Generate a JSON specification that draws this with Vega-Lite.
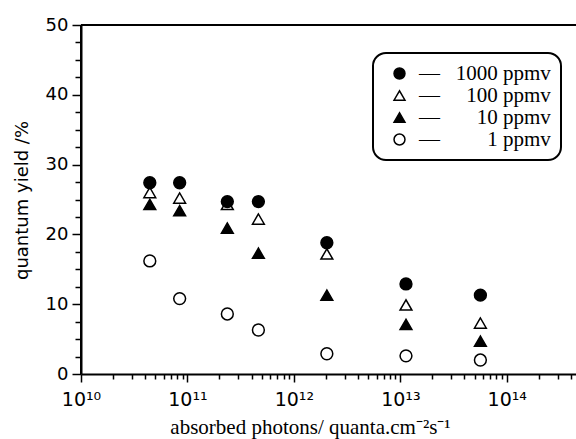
{
  "$schema": "https://vega.github.io/schema/vega-lite/v6.json",
  "width": 495,
  "height": 349,
  "autosize": {"type": "none"},
  "padding": {"left": 81, "top": 25, "right": 0, "bottom": 65},
  "background": "white",
  "config": {"view": {"stroke": null}, "legend": {"strokeWidth": 2}},
  "resolve": {"axis": {"x": "independent", "y": "independent"}},
  "layer": [
    {
      "data": {
        "values": [
          {"photons": 4.43e10, "yield": 16.2, "conc": "1 ppmv"},
          {"photons": 8.45e10, "yield": 10.8, "conc": "1 ppmv"},
          {"photons": 2.37e11, "yield": 8.6, "conc": "1 ppmv"},
          {"photons": 4.64e11, "yield": 6.3, "conc": "1 ppmv"},
          {"photons": 2.04e12, "yield": 2.9, "conc": "1 ppmv"},
          {"photons": 1.13e13, "yield": 2.6, "conc": "1 ppmv"},
          {"photons": 5.65e13, "yield": 2.0, "conc": "1 ppmv"},
          {"photons": 4.43e10, "yield": 24.3, "conc": "10 ppmv"},
          {"photons": 8.45e10, "yield": 23.4, "conc": "10 ppmv"},
          {"photons": 2.37e11, "yield": 20.9, "conc": "10 ppmv"},
          {"photons": 4.64e11, "yield": 17.3, "conc": "10 ppmv"},
          {"photons": 2.04e12, "yield": 11.3, "conc": "10 ppmv"},
          {"photons": 1.13e13, "yield": 7.1, "conc": "10 ppmv"},
          {"photons": 5.65e13, "yield": 4.7, "conc": "10 ppmv"},
          {"photons": 4.43e10, "yield": 26.0, "conc": "100 ppmv"},
          {"photons": 8.45e10, "yield": 25.2, "conc": "100 ppmv"},
          {"photons": 2.37e11, "yield": 24.3, "conc": "100 ppmv"},
          {"photons": 4.64e11, "yield": 22.2, "conc": "100 ppmv"},
          {"photons": 2.04e12, "yield": 17.2, "conc": "100 ppmv"},
          {"photons": 1.13e13, "yield": 9.9, "conc": "100 ppmv"},
          {"photons": 5.65e13, "yield": 7.3, "conc": "100 ppmv"},
          {"photons": 4.43e10, "yield": 27.4, "conc": "1000 ppmv"},
          {"photons": 8.45e10, "yield": 27.4, "conc": "1000 ppmv"},
          {"photons": 2.37e11, "yield": 24.7, "conc": "1000 ppmv"},
          {"photons": 4.64e11, "yield": 24.7, "conc": "1000 ppmv"},
          {"photons": 2.04e12, "yield": 18.8, "conc": "1000 ppmv"},
          {"photons": 1.13e13, "yield": 12.9, "conc": "1000 ppmv"},
          {"photons": 5.65e13, "yield": 11.3, "conc": "1000 ppmv"}
        ]
      },
      "mark": {"type": "point", "filled": true, "stroke": "black", "strokeWidth": 1.5, "size": 140, "opacity": 1},
      "encoding": {
        "x": {
          "field": "photons",
          "type": "quantitative",
          "scale": {"type": "log", "domain": [1e10, 4.47e14], "nice": false},
          "axis": {
            "orient": "bottom",
            "domain": true,
            "domainColor": "black",
            "domainWidth": 2,
            "ticks": true,
            "title": "absorbed photons/ quanta.cm⁻²s⁻¹",
            "values": [1e10, 1e11, 1e12, 1e13, 1e14],
            "labelExpr": "datum.value == 1e10 ? '10¹⁰' : datum.value == 1e11 ? '10¹¹' : datum.value == 1e12 ? '10¹²' : datum.value == 1e13 ? '10¹³' : datum.value == 1e14 ? '10¹⁴' : ''",
            "labelFlush": false,
            "labelOverlap": false,
            "labelFont": "DejaVu Sans",
            "labelFontSize": 19,
            "labelColor": "black",
            "labelPadding": 8,
            "tickSize": 8,
            "tickColor": "black",
            "tickWidth": 1.5,
            "grid": false,
            "titleFont": "Liberation Serif",
            "titleFontSize": 21,
            "titleFontWeight": "normal",
            "titleColor": "black",
            "titleX": 229,
            "titleY": 59,
            "titleAlign": "center",
            "titleBaseline": "alphabetic"
          }
        },
        "y": {
          "field": "yield",
          "type": "quantitative",
          "scale": {"domain": [0, 50], "nice": false},
          "axis": {
            "orient": "left",
            "domain": true,
            "domainColor": "black",
            "domainWidth": 2,
            "ticks": true,
            "title": "quantum yield /%",
            "values": [0, 10, 20, 30, 40, 50],
            "labelFont": "DejaVu Sans",
            "labelFontSize": 18,
            "labelColor": "black",
            "labelPadding": 4,
            "tickSize": 9,
            "tickColor": "black",
            "tickWidth": 1.5,
            "grid": false,
            "titleFont": "DejaVu Sans",
            "titleFontSize": 18,
            "titleFontWeight": "normal",
            "titleColor": "black",
            "titleX": -59,
            "titleY": 175,
            "titleAngle": -90,
            "titleAlign": "center",
            "titleBaseline": "middle"
          }
        },
        "shape": {
          "field": "conc",
          "type": "nominal",
          "scale": {"domain": ["1000 ppmv", "100 ppmv", "10 ppmv", "1 ppmv"], "range": ["circle", "triangle-up", "triangle-up", "circle"]},
          "legend": {
            "orient": "none",
            "legendX": 292,
            "legendY": 28,
            "title": null,
            "strokeColor": "black",
            "cornerRadius": 13,
            "padding": 10,
            "symbolOffset": 6,
            "symbolSize": 120,
            "symbolStrokeWidth": 1.5,
            "labelFont": "Liberation Serif",
            "labelFontSize": 21,
            "labelColor": "black",
            "labelOffset": 9,
            "labelLimit": 400,
            "rowPadding": 0,
            "labelExpr": "'— \u2002' + (datum.label == '1000 ppmv' ? '' : datum.label == '100 ppmv' ? '\u2007' : datum.label == '10 ppmv' ? '\u2007\u2007' : '\u2007\u2007\u2007') + datum.label"
          }
        },
        "fill": {
          "field": "conc",
          "type": "nominal",
          "scale": {"domain": ["1000 ppmv", "100 ppmv", "10 ppmv", "1 ppmv"], "range": ["black", "white", "black", "white"]}
        }
      }
    },
    {
      "data": {"values": [{}]},
      "mark": {"type": "rule", "color": "black", "strokeWidth": 2},
      "encoding": {
        "y": {
          "datum": 50,
          "type": "quantitative",
          "axis": {
            "orient": "left",
            "domain": false,
            "ticks": true,
            "labels": false,
            "title": null,
            "grid": false,
            "values": [2.5, 5, 7.5, 12.5, 15, 17.5, 22.5, 25, 27.5, 32.5, 35, 37.5, 42.5, 45, 47.5],
            "tickSize": 6,
            "tickColor": "black",
            "tickWidth": 1.5
          }
        }
      }
    },
    {
      "data": {"values": [{}]},
      "mark": {"type": "rule", "color": "black", "strokeWidth": 2},
      "encoding": {
        "x": {
          "datum": 1e10,
          "type": "quantitative",
          "axis": {
            "orient": "bottom",
            "domain": false,
            "ticks": true,
            "labels": false,
            "title": null,
            "grid": false,
            "values": [2e10, 3e10, 4e10, 5e10, 6e10, 7e10, 8e10, 9e10, 2e11, 3e11, 4e11, 5e11, 6e11, 7e11, 8e11, 9e11, 2e12, 3e12, 4e12, 5e12, 6e12, 7e12, 8e12, 9e12, 2e13, 3e13, 4e13, 5e13, 6e13, 7e13, 8e13, 9e13, 2e14, 3e14, 4e14],
            "tickSize": 5,
            "tickColor": "black",
            "tickWidth": 1.5
          }
        }
      }
    }
  ]
}
